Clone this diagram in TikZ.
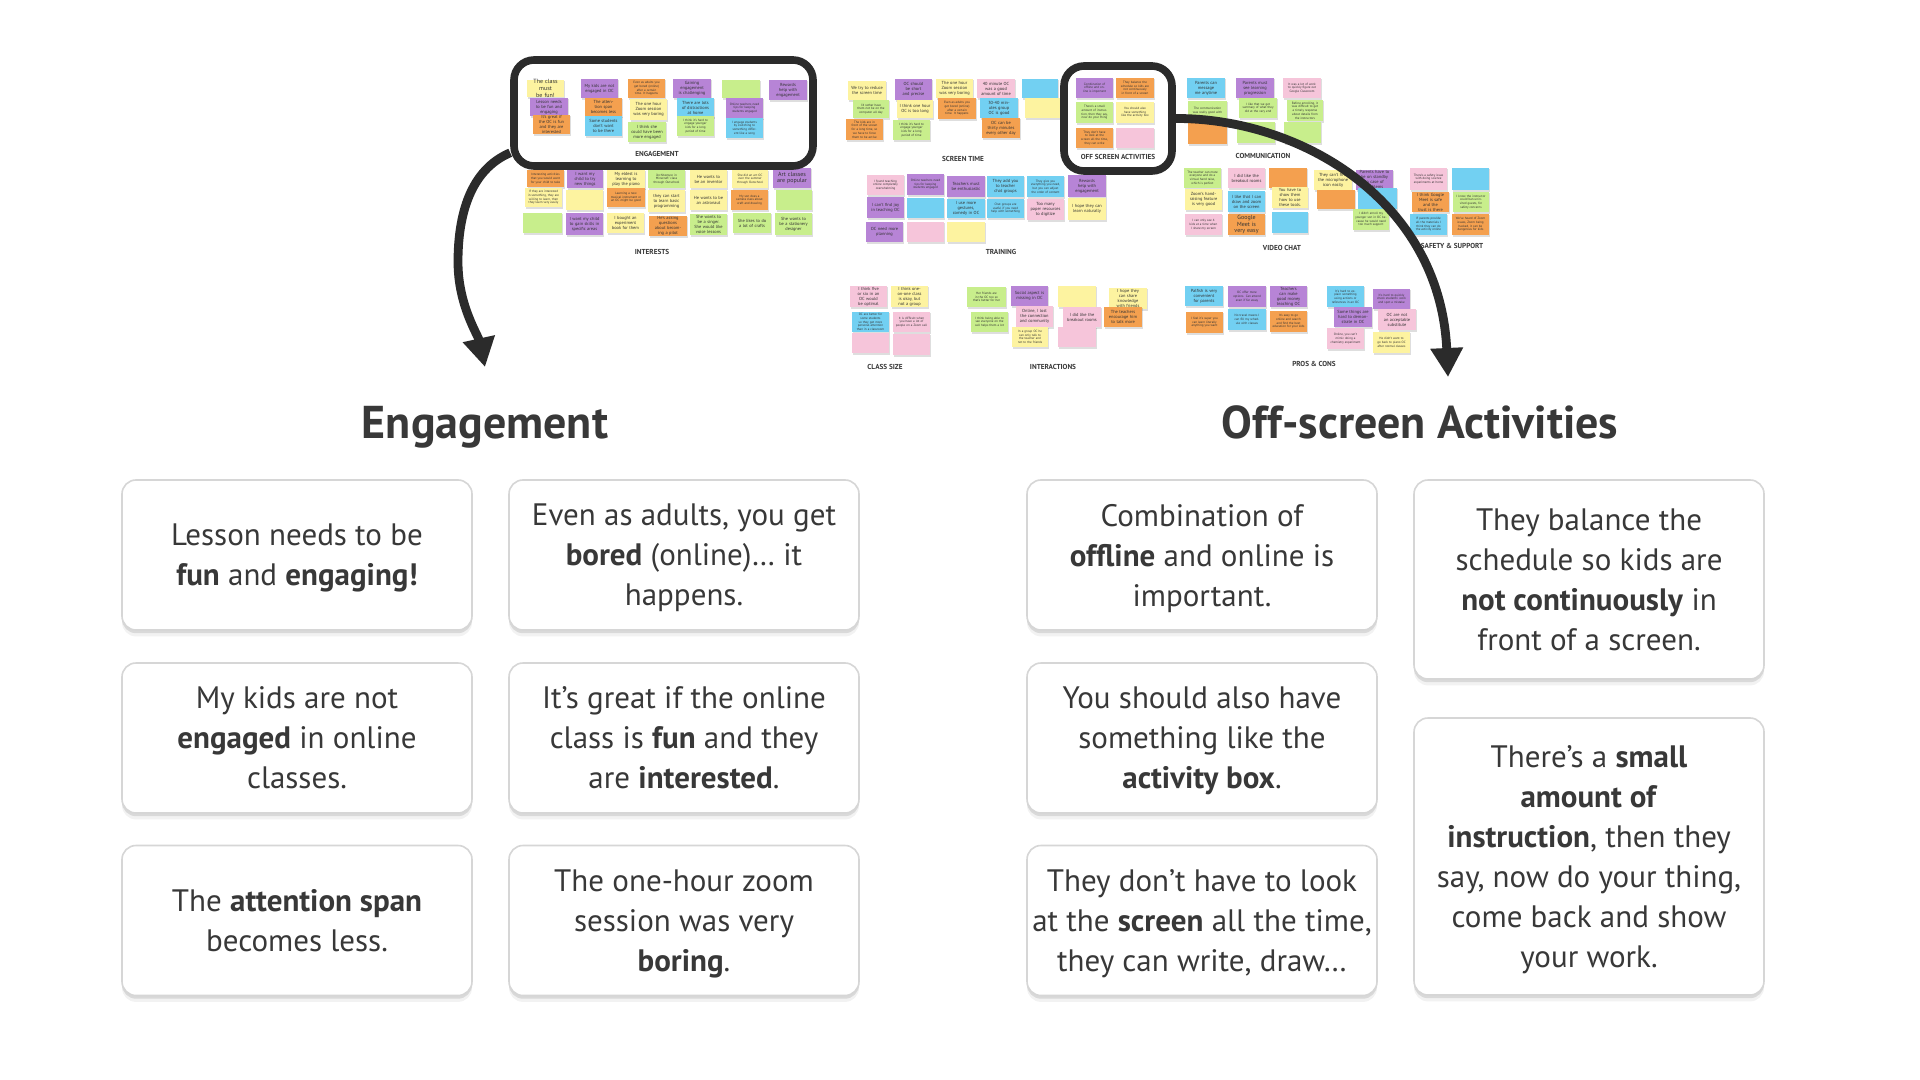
\documentclass[tikz,border=0pt]{standalone}
\usepackage{fontspec}
\setmainfont{PT Sans}
\usetikzlibrary{arrows.meta,shadows,calc}
\definecolor{ink}{HTML}{2B2B2B}
\definecolor{cardline}{HTML}{D6D6D6}
\definecolor{cardtxt}{HTML}{383838}
\definecolor{yel}{HTML}{FDF3A0}
\definecolor{pur}{HTML}{B784D6}
\definecolor{ora}{HTML}{F4A04F}
\definecolor{blu}{HTML}{72D0F2}
\definecolor{gre}{HTML}{C8EE8C}
\definecolor{pnk}{HTML}{F6C5DA}
\newcounter{stkc}
\newcommand\szbig{\fontsize{3}{3.4}\selectfont}
\newcommand\szmid{\fontsize{2.2}{2.5}\selectfont}
\newcommand\szsml{\fontsize{1.6}{1.85}\selectfont}
\newcommand\cardfnt{\fontsize{15.5}{20}\selectfont}
\newcommand\stk[7]{%
  \stepcounter{stkc}%
  \fill[black,opacity=0.13] (#1+0.8,#2+1.5) rectangle (#3+0.8,#4+1.8);%
  \fill[#5] (#1,#2) rectangle (#3,#4);%
  \def\stktmp{#7}%
  \ifx\stktmp\empty\else
  \node[notetext, font=#6] (stk\arabic{stkc}) at ({(#1+#3)/2},{(#2+#4)/2}) {#7};%
  \fi}
\tikzset{
  notetext/.style={text=black!80, align=center, text width=16pt, inner sep=0pt},
  boardlabel/.style={text=cardtxt, font=\fontsize{3.6}{4}\selectfont\bfseries, inner sep=0pt},
  card/.style={draw=cardline, line width=0.8pt, fill=white, rounded corners=7pt,
    text=cardtxt, align=center, inner sep=0pt, minimum width=175pt, font=\cardfnt,
    text depth=0pt,
    general shadow={fill=black,opacity=0.05,shadow yshift=-3.2pt},
    general shadow={fill=black,opacity=0.10,shadow yshift=-1.6pt}},
  heading/.style={text=cardtxt, font=\fontsize{23}{27}\selectfont\bfseries, anchor=base, inner sep=0pt},
  hlbox/.style={draw=ink, line width=3.8pt, rounded corners=10pt, inner sep=0pt},
  bigarrow/.style={draw=ink, line width=4.4pt, -{Triangle[length=14.5pt,width=15.5pt]}},
}
\begin{document}
\begin{tikzpicture}[x=0.5pt,y=-0.5pt]
\useasboundingbox (0,0) rectangle (1920,1080);
\fill[white] (0,0) rectangle (1920,1080);

% ---------------- ENGAGEMENT cluster
\stk{527}{80}{564}{97}{yel}{\szbig}{The class must be fun!}
\stk{530}{98}{568}{116}{pur}{\szmid}{Lesson needs to be fun and engaging}
\stk{533}{115}{570}{134}{ora}{\szmid}{It's great if the OC is fun and they are interested}
\stk{581}{79}{618}{98}{pur}{\szmid}{My kids are not engaged in OC}
\stk{585}{98}{622}{116}{ora}{\szmid}{The attention span becomes less}
\stk{585}{116}{622}{136}{blu}{\szmid}{Some students don't want to be there}
\stk{628}{79}{665}{98}{ora}{\szsml}{Even as adults you get bored (online) after a certain time. It happens}
\stk{630}{99}{667}{120}{yel}{\szmid}{The one hour Zoom session was very boring}
\stk{628}{122}{666}{142}{gre}{\szmid}{I think she could have been more engaged}
\stk{673}{79}{711}{98}{pur}{\szmid}{Gaining engagement is challenging}
\stk{677}{98}{714}{117}{blu}{\szmid}{There are lots of distractions at home}
\stk{677}{116}{714}{136}{gre}{\szsml}{I think it's hard to engage younger kids for a long period of time}
\stk{722}{80}{760}{98}{gre}{\szsml}{}
\stk{726}{98}{763}{118}{pur}{\szsml}{Online teachers need tips for keeping students engaged}
\stk{726}{118}{763}{138}{blu}{\szsml}{I engage students by switching to something different like a song}
\stk{769}{80}{807}{100}{pur}{\szmid}{Rewards help with engagement}
\node[boardlabel] (lbeng) at (657,154) {ENGAGEMENT};

% ---------------- INTERESTS
\stk{527}{170}{564}{187}{ora}{\szsml}{Interesting activities that you would want for your child to take}
\stk{567}{170}{603}{188}{pur}{\szmid}{I want my child to try new things}
\stk{607}{170}{645}{188}{yel}{\szmid}{My eldest is learning to play the piano}
\stk{648}{170}{685}{188}{gre}{\szsml}{`Architecture in Minecraft' class through Outschool}
\stk{690}{170}{727}{188}{yel}{\szmid}{He wants to be an inventor}
\stk{732}{170}{768}{188}{yel}{\szsml}{She did an art OC over the summer through Outschool}
\stk{773}{168}{811}{188}{pur}{\szbig}{Art classes are popular}
\stk{525}{188}{562}{207}{yel}{\szsml}{If they are interested in something, they are willing to learn, then they learn very easily}
\stk{566}{190}{603}{210}{yel}{\szsml}{}
\stk{607}{188}{645}{207}{ora}{\szsml}{Learning a new musical instrument or an OC might be good}
\stk{648}{190}{685}{212}{yel}{\szmid}{they can start to learn basic programming}
\stk{690}{190}{727}{210}{yel}{\szmid}{He wants to be an astronaut}
\stk{731}{190}{768}{210}{ora}{\szsml}{My son does a camera class about craft and drawing}
\stk{776}{190}{812}{210}{gre}{\szsml}{}
\stk{523}{213}{562}{233}{gre}{\szsml}{}
\stk{566}{213}{603}{235}{pur}{\szmid}{I want my child to gain skills in specific areas}
\stk{607}{213}{644}{233}{yel}{\szmid}{I bought an experiment book for them}
\stk{649}{216}{687}{236}{ora}{\szmid}{He's asking questions about becoming a pilot}
\stk{690}{214}{727}{235}{gre}{\szmid}{She wants to be a singer. She would like voice lessons}
\stk{733}{213}{771}{233}{gre}{\szmid}{She likes to do a lot of crafts}
\stk{775}{213}{812}{235}{gre}{\szmid}{She wants to be a stationery designer}
\node[boardlabel] (lbint) at (652,252) {INTERESTS};

% ---------------- SCREEN TIME
\stk{848}{81}{886}{100}{yel}{\szmid}{We try to reduce the screen time}
\stk{853}{100}{889}{118}{gre}{\szsml}{I'd rather have them not be on the computer all day}
\stk{846}{119}{883}{140}{ora}{\szsml}{The kids are in front of the screen for a long time, so we have to force them to be active}
\stk{895}{79}{932}{100}{pur}{\szmid}{OC should be short and precise}
\stk{897}{100}{933}{118}{yel}{\szmid}{I think one hour OC is too long}
\stk{893}{120}{930}{140}{gre}{\szsml}{I think it's hard to engage younger kids for a long period of time}
\stk{936}{79}{973}{98}{yel}{\szmid}{The one hour Zoom session was very boring}
\stk{938}{98}{976}{119}{ora}{\szsml}{Even as adults you get bored (online) after a certain time. It happens}
\stk{977}{79}{1015}{98}{pnk}{\szmid}{40 minute OC was a good amount of time}
\stk{980}{98}{1018}{118}{blu}{\szmid}{30-40 minutes group OC is good}
\stk{982}{118}{1020}{138}{ora}{\szmid}{OC can be thirty minutes every other day}
\stk{1022}{79}{1058}{98}{blu}{\szsml}{}
\stk{1025}{98}{1060}{118}{yel}{\szsml}{}
\node[boardlabel] (lbscr) at (963,159) {SCREEN TIME};

% ---------------- TRAINING
\stk{867}{175}{904}{195}{pnk}{\szsml}{I found teaching online completely overwhelming}
\stk{867}{197}{904}{218}{pur}{\szmid}{I can't find joy in teaching OC}
\stk{866}{222}{903}{242}{pur}{\szmid}{OC need more planning}
\stk{907}{174}{944}{195}{pur}{\szsml}{Online teachers need tips for keeping students engaged}
\stk{907}{198}{944}{218}{blu}{\szsml}{}
\stk{907}{222}{944}{242}{pnk}{\szsml}{}
\stk{947}{176}{985}{197}{pur}{\szmid}{Teachers must be enthusiastic}
\stk{947}{199}{985}{218}{blu}{\szmid}{I use more gestures, comedy in OC}
\stk{947}{222}{985}{242}{yel}{\szsml}{}
\stk{987}{176}{1024}{197}{blu}{\szmid}{They add you to teacher chat groups}
\stk{987}{199}{1024}{218}{blu}{\szsml}{Chat groups are useful if you need help with something}
\stk{1027}{176}{1064}{197}{blu}{\szsml}{They give you everything you need, but you can adjust the order of content}
\stk{1027}{199}{1064}{220}{pnk}{\szmid}{Too many paper resources to digitize}
\stk{1068}{175}{1106}{197}{pur}{\szmid}{Rewards help with engagement}
\stk{1068}{198}{1106}{220}{yel}{\szmid}{I hope they can learn naturally}
\node[boardlabel] (lbtra) at (1001,252) {TRAINING};

% ---------------- OFF SCREEN ACTIVITIES
\stk{1076}{78}{1113}{98}{pur}{\szsml}{Combination of offline and online is important}
\stk{1116}{78}{1154}{98}{ora}{\szsml}{They balance the schedule so kids are not continuously in front of a screen}
\stk{1076}{102}{1113}{123}{gre}{\szsml}{There's a small amount of instruction, then they say, now do your thing}
\stk{1116}{102}{1154}{123}{yel}{\szsml}{You should also have something like the activity box}
\stk{1076}{128}{1113}{148}{ora}{\szsml}{They don't have to look at the screen all the time, they can write}
\stk{1116}{128}{1154}{148}{pnk}{\szsml}{}
\node[boardlabel] (lboff) at (1118,157) {OFF SCREEN ACTIVITIES};

% ---------------- COMMUNICATION
\stk{1187}{78}{1225}{98}{blu}{\szmid}{Parents can message me anytime}
\stk{1188}{101}{1227}{121}{gre}{\szsml}{The communication was really good with}
\stk{1188}{123}{1227}{144}{ora}{\szsml}{}
\stk{1236}{78}{1274}{98}{pur}{\szmid}{Parents must see learning progression}
\stk{1239}{98}{1277}{118}{gre}{\szsml}{I like that we get summary of what they did at the very end}
\stk{1237}{122}{1275}{143}{gre}{\szsml}{}
\stk{1283}{78}{1321}{98}{pnk}{\szsml}{It was a lot of work to quickly figure out Google Classroom}
\stk{1287}{100}{1323}{121}{gre}{\szsml}{Before enrolling, it was difficult to get a timely response about details from the instructors}
\stk{1284}{122}{1321}{143}{gre}{\szsml}{}
\node[boardlabel] (lbcom) at (1263,156) {COMMUNICATION};

% ---------------- VIDEO CHAT
\stk{1184}{168}{1221}{188}{gre}{\szsml}{The teacher can mute everyone and do a virtual hand raise, which is perfect}
\stk{1185}{189}{1222}{210}{yel}{\szmid}{Zoom's hand-raising feature is very good}
\stk{1185}{214}{1222}{235}{pnk}{\szsml}{I can only see 4 kids at a time when I share my screen}
\stk{1228}{168}{1265}{188}{pnk}{\szmid}{I did like the breakout rooms}
\stk{1228}{191}{1265}{212}{blu}{\szmid}{I like that I can draw and zoom on the screen}
\stk{1228}{214}{1265}{235}{ora}{\szbig}{Google Meet is very easy}
\stk{1269}{168}{1307}{188}{ora}{\szsml}{}
\stk{1272}{187}{1308}{208}{yel}{\szmid}{You have to show them how to use these tools.}
\stk{1272}{212}{1308}{233}{blu}{\szsml}{}
\stk{1314}{170}{1352}{190}{yel}{\szmid}{They can't find the microphone icon easily}
\stk{1317}{190}{1355}{209}{ora}{\szsml}{}
\stk{1356}{170}{1393}{190}{pur}{\szmid}{Parents have to be on standby in case of problems}
\stk{1358}{188}{1397}{209}{blu}{\szsml}{}
\stk{1353}{209}{1389}{230}{gre}{\szsml}{I didn't enroll my younger son in OC because he would need too much support}
\node[boardlabel] (lbvid) at (1282,248) {VIDEO CHAT};

% ---------------- SAFETY & SUPPORT
\stk{1410}{168}{1447}{190}{pnk}{\szsml}{There's a safety issue with doing science experiments at home}
\stk{1412}{192}{1449}{212}{ora}{\szmid}{I think Google Meet is safe and the trust is there}
\stk{1410}{214}{1447}{235}{blu}{\szsml}{If parents provide all the materials I think they can do the activity online}
\stk{1452}{168}{1489}{190}{blu}{\szsml}{}
\stk{1453}{192}{1489}{212}{gre}{\szsml}{I know the instructor could ban uninvited guests, for safety concerns}
\stk{1452}{214}{1489}{235}{ora}{\szsml}{We've heard of Zoom issues, Zoom being hacked, it can be dangerous for kids}
\node[boardlabel] (lbsaf) at (1452,246) {SAFETY \& SUPPORT};

% ---------------- CLASS SIZE
\stk{850}{286}{887}{307}{pnk}{\szmid}{I think five or six in an OC would be optimal}
\stk{852}{312}{889}{332}{blu}{\szsml}{OC are better for some students so they get more personal attention than in a classroom}
\stk{852}{333}{889}{353}{pnk}{\szsml}{}
\stk{891}{286}{928}{307}{yel}{\szmid}{I think one-on-one class is okay, but not a group}
\stk{893}{312}{930}{332}{pnk}{\szsml}{It is difficult when you have a lot of people on a Zoom call}
\stk{893}{334}{930}{355}{pnk}{\szsml}{}
\node[boardlabel] (lbcls) at (885,367) {CLASS SIZE};

% ---------------- INTERACTIONS
\stk{967}{287}{1006}{307}{gre}{\szsml}{Her friends are in the OC too so that's better for her}
\stk{971}{312}{1008}{332}{gre}{\szsml}{I think being able to see everyone on the call helps them a lot}
\stk{1011}{286}{1048}{306}{pur}{\szmid}{Social aspect is missing in OC}
\stk{1016}{306}{1053}{327}{pnk}{\szmid}{Online, I lost the connection and community}
\stk{1012}{327}{1048}{347}{yel}{\szsml}{In a group OC he can only talk to the teacher and not to the friends}
\stk{1058}{286}{1096}{307}{yel}{\szsml}{}
\stk{1063}{307}{1101}{327}{pnk}{\szmid}{I did like the breakout rooms}
\stk{1058}{327}{1096}{347}{pnk}{\szsml}{}
\stk{1109}{288}{1147}{309}{yel}{\szmid}{I hope they can share knowledge with friends}
\stk{1104}{307}{1142}{327}{ora}{\szmid}{The teachers encourage him to talk more}
\node[boardlabel] (lbinr) at (1053,367) {INTERACTIONS};

% ---------------- PROS & CONS
\stk{1185}{286}{1223}{306}{blu}{\szmid}{Palfish is very convenient for parents}
\stk{1186}{312}{1223}{333}{ora}{\szsml}{I feel it's super you can learn literally anything you want}
\stk{1228}{286}{1266}{307}{pur}{\szsml}{OC offer more options. Can attend even if far away}
\stk{1228}{309}{1266}{330}{blu}{\szsml}{No travel means I can fill my schedule with classes}
\stk{1270}{286}{1307}{307}{pur}{\szmid}{Teachers can make good money teaching OC}
\stk{1270}{311}{1307}{332}{ora}{\szsml}{It's easy to go online and search and find the best education for your kids}
\stk{1327}{286}{1364}{307}{blu}{\szsml}{It's hard to explain something using actions or references in an OC}
\stk{1334}{307}{1372}{327}{pur}{\szmid}{Some things are hard to demonstrate in OC}
\stk{1327}{328}{1364}{349}{pnk}{\szsml}{Online, you can't mimic doing a chemistry experiment}
\stk{1373}{289}{1410}{309}{pur}{\szsml}{It's hard to quickly check students' work and spot a mistake}
\stk{1378}{309}{1416}{330}{pnk}{\szmid}{OC are not an acceptable substitute}
\stk{1373}{332}{1410}{353}{yel}{\szsml}{He didn't want to go back to piano OC after normal classes}
\node[boardlabel] (lbpro) at (1314,364) {PROS \& CONS};

% ---------------- highlight boxes and arrows
\node[hlbox, minimum width=149.5pt, minimum height=53pt] (engbox) at (663.5,113) {};
\node[hlbox, minimum width=54pt, minimum height=52.5pt] (offbox) at (1118,118.5) {};
\coordinate (a1s) at ($(engbox.south west)!0.15!(engbox.north west)$);
\coordinate (a1e) at (485,367);
\coordinate (a2e) at (1448,377);
\draw[bigarrow] (a1s) .. controls (470,170) and (458,215) .. (458,262)
                      .. controls (458,305) and (478,335) .. (a1e);
\draw[bigarrow] (offbox.east) .. controls (1300,118) and (1440,200) .. (a2e);

% ---------------- headings
\node[heading] (heng) at (485,438) {Engagement};
\node[heading] (hoff) at (1420,438) {Off-screen Activities};

% ---------------- cards
\node[card, minimum height=75pt] (e1) at (297,555) {Lesson needs to be\\\textbf{fun} and \textbf{engaging!}};
\node[card, minimum height=75pt] (e2) at (684,555) {Even as adults, you get\\\textbf{bored} (online)… it\\happens.};
\node[card, minimum height=75pt] (e3) at (297,738) {My kids are not\\\textbf{engaged} in online\\classes.};
\node[card, minimum height=75pt] (e4) at (684,738) {It’s great if the online\\class is \textbf{fun} and they\\are \textbf{interested}.};
\node[card, minimum height=75pt] (e5) at (297,920.5) {The \textbf{attention span}\\becomes less.};
\node[card, minimum height=75pt] (e6) at (684,920.5) {The one-hour zoom\\session was very\\\textbf{boring}.};
\node[card, minimum height=75pt] (o1) at (1202,555) {Combination of\\\textbf{offline} and online is\\important.};
\node[card, minimum height=75pt] (o2) at (1202,738) {You should also have\\something like the\\\textbf{activity box}.};
\node[card, minimum height=75pt] (o3) at (1202,920.5) {They don’t have to look\\at the \textbf{screen} all the time,\\they can write, draw…};
\node[card, minimum height=99.5pt] (o4) at (1589,579.5) {They balance the\\schedule so kids are\\\textbf{not continuously} in\\front of a screen.};
\node[card, minimum height=138.5pt] (o5) at (1589,856.5) {There’s a \textbf{small}\\\textbf{amount of}\\\textbf{instruction}, then they\\say, now do your thing,\\come back and show\\your work.};
\end{tikzpicture}
\end{document}
